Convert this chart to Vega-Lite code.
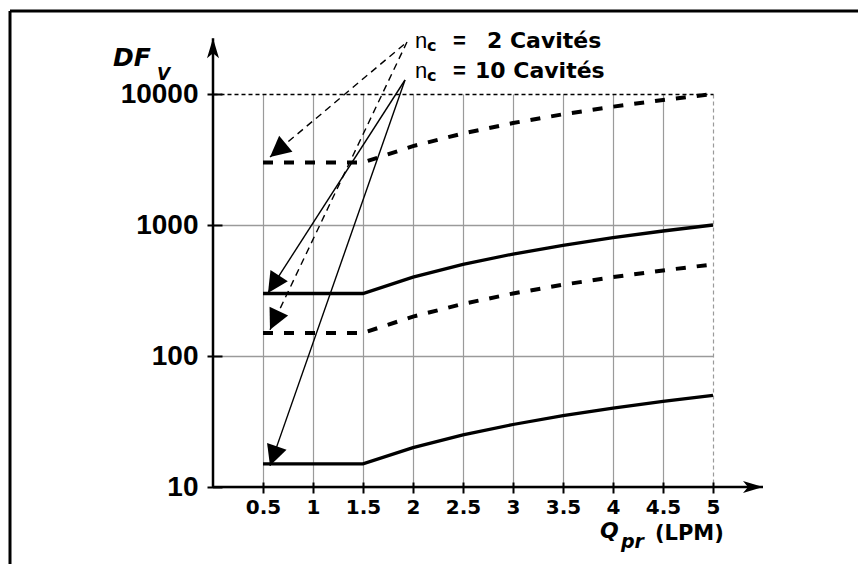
{
  "$schema": "https://vega.github.io/schema/vega-lite/v6.json",
  "width": 500,
  "height": 393,
  "autosize": "none",
  "padding": {"left": 213, "top": 94, "right": 145, "bottom": 77},
  "background": "white",
  "config": {"view": {"stroke": null}, "font": "Liberation Sans", "text": {"font": "DejaVu Sans"}},
  "datasets": {
    "curves": [
      {"series": "A", "nc": "2", "q": 0.5, "df": 3000}, {"series": "A", "nc": "2", "q": 1, "df": 3000}, {"series": "A", "nc": "2", "q": 1.5, "df": 3000}, {"series": "A", "nc": "2", "q": 2, "df": 4000}, {"series": "A", "nc": "2", "q": 2.5, "df": 5000}, {"series": "A", "nc": "2", "q": 3, "df": 6000}, {"series": "A", "nc": "2", "q": 3.5, "df": 7000}, {"series": "A", "nc": "2", "q": 4, "df": 8000}, {"series": "A", "nc": "2", "q": 4.5, "df": 9000}, {"series": "A", "nc": "2", "q": 5, "df": 10000},
      {"series": "B", "nc": "10", "q": 0.5, "df": 300}, {"series": "B", "nc": "10", "q": 1, "df": 300}, {"series": "B", "nc": "10", "q": 1.5, "df": 300}, {"series": "B", "nc": "10", "q": 2, "df": 400}, {"series": "B", "nc": "10", "q": 2.5, "df": 500}, {"series": "B", "nc": "10", "q": 3, "df": 600}, {"series": "B", "nc": "10", "q": 3.5, "df": 700}, {"series": "B", "nc": "10", "q": 4, "df": 800}, {"series": "B", "nc": "10", "q": 4.5, "df": 900}, {"series": "B", "nc": "10", "q": 5, "df": 1000},
      {"series": "C", "nc": "2", "q": 0.5, "df": 150}, {"series": "C", "nc": "2", "q": 1, "df": 150}, {"series": "C", "nc": "2", "q": 1.5, "df": 150}, {"series": "C", "nc": "2", "q": 2, "df": 200}, {"series": "C", "nc": "2", "q": 2.5, "df": 250}, {"series": "C", "nc": "2", "q": 3, "df": 300}, {"series": "C", "nc": "2", "q": 3.5, "df": 350}, {"series": "C", "nc": "2", "q": 4, "df": 400}, {"series": "C", "nc": "2", "q": 4.5, "df": 450}, {"series": "C", "nc": "2", "q": 5, "df": 500},
      {"series": "D", "nc": "10", "q": 0.5, "df": 15}, {"series": "D", "nc": "10", "q": 1, "df": 15}, {"series": "D", "nc": "10", "q": 1.5, "df": 15}, {"series": "D", "nc": "10", "q": 2, "df": 20}, {"series": "D", "nc": "10", "q": 2.5, "df": 25}, {"series": "D", "nc": "10", "q": 3, "df": 30}, {"series": "D", "nc": "10", "q": 3.5, "df": 35}, {"series": "D", "nc": "10", "q": 4, "df": 40}, {"series": "D", "nc": "10", "q": 4.5, "df": 45}, {"series": "D", "nc": "10", "q": 5, "df": 50}
    ],
    "arrows": [
      {"id": "a1", "nc": "2", "q": 0.57, "df": 3304, "q2": 1.94, "df2": 24960},
      {"id": "a2", "nc": "2", "q": 0.57, "df": 158.5, "q2": 1.94, "df2": 24960},
      {"id": "a3", "nc": "10", "q": 0.55, "df": 303, "q2": 1.92, "df2": 12790},
      {"id": "a4", "nc": "10", "q": 0.57, "df": 14.5, "q2": 1.92, "df2": 12790}
    ],
    "axes": [
      {"id": "y", "q": 0, "df": 26700, "q2": 0, "df2": 10},
      {"id": "x", "q": 5.5, "df": 10, "q2": 0, "df2": 10}
    ],
    "frame": [
      {"q": -2.03, "df": 42950, "q2": 6.6, "df2": 42950},
      {"q": -2.03, "df": 42950, "q2": -2.03, "df2": 2.0}
    ],
    "texts": [
      {"kind": "n", "q": 2.02, "df": 22340, "text": "n"},
      {"kind": "n", "q": 2.02, "df": 13190, "text": "n"},
      {"kind": "c", "q": 2.14, "df": 21290, "text": "c"},
      {"kind": "c", "q": 2.14, "df": 12560, "text": "c"},
      {"kind": "eqsign", "q": 2.40, "df": 22340, "text": "="},
      {"kind": "eqsign", "q": 2.40, "df": 13190, "text": "="},
      {"kind": "eq", "q": 2.74, "df": 22340, "text": "2 Cavités"},
      {"kind": "eq", "q": 2.62, "df": 13190, "text": "10 Cavités"},
      {"kind": "DF", "q": -1.0, "df": 16370, "text": "DF"},
      {"kind": "V", "q": -0.56, "df": 12800, "text": "V"},
      {"kind": "Q", "q": 3.87, "df": 4.1, "text": "Q"},
      {"kind": "pr", "q": 4.08, "df": 3.45, "text": "pr"},
      {"kind": "LPM", "q": 4.42, "df": 3.96, "text": "(LPM)"}
    ]
  },
  "encoding": {
    "x": {
      "field": "q", "type": "quantitative",
      "scale": {"type": "linear", "domain": [0, 5], "nice": false, "zero": false},
      "axis": {
        "values": [0.5, 1, 1.5, 2, 2.5, 3, 3.5, 4, 4.5, 5], "format": "~g",
        "title": null, "domain": false,
        "grid": true, "gridColor": "#9a9a9a", "gridWidth": 1.2,
        "gridDash": {"condition": {"test": "datum.value === 5", "value": [4, 3]}, "value": []},
        "ticks": true, "tickColor": "black", "tickWidth": 2, "tickSize": 11, "offset": -5,
        "labelFont": "DejaVu Sans", "labelFontSize": 20, "labelFontWeight": "bold", "labelColor": "black",
        "labelPadding": 4, "labelFlush": false, "labelOverlap": false
      }
    },
    "y": {
      "field": "df", "type": "quantitative",
      "scale": {"type": "log", "domain": [10, 10000], "nice": false, "zero": false},
      "axis": {
        "values": [10, 100, 1000, 10000], "format": "d",
        "title": null, "domain": false,
        "grid": true,
        "gridColor": {"condition": {"test": "datum.value === 10000", "value": "black"}, "value": "#9a9a9a"},
        "gridDash": {"condition": {"test": "datum.value === 10000", "value": [4, 3]}, "value": []},
        "gridWidth": 1.3,
        "ticks": true, "tickColor": "black", "tickWidth": 2, "tickSize": 15, "offset": -9,
        "labelFont": "Liberation Sans", "labelFontSize": 28, "labelFontWeight": "bold", "labelColor": "black",
        "labelPadding": 9, "labelOverlap": false
      }
    }
  },
  "layer": [
    {
      "data": {"name": "frame"},
      "mark": {"type": "rule", "color": "black", "strokeWidth": 3},
      "encoding": {"x2": {"field": "q2"}, "y2": {"field": "df2"}}
    },
    {
      "data": {"name": "curves"},
      "transform": [{"filter": "datum.nc === '2'"}],
      "mark": {"type": "line", "color": "black", "strokeWidth": 4, "strokeDash": [10, 11], "strokeCap": "butt"},
      "encoding": {"detail": {"field": "series"}}
    },
    {
      "data": {"name": "curves"},
      "transform": [{"filter": "datum.nc === '10'"}],
      "mark": {"type": "line", "color": "black", "strokeWidth": 3.3},
      "encoding": {"detail": {"field": "series"}}
    },
    {
      "data": {"name": "arrows"},
      "transform": [{"filter": "datum.nc === '2'"}],
      "mark": {"type": "rule", "color": "black", "strokeWidth": 1.4, "strokeDash": [7, 5]},
      "encoding": {"x2": {"field": "q2"}, "y2": {"field": "df2"}}
    },
    {
      "data": {"name": "arrows"},
      "transform": [{"filter": "datum.nc === '10'"}],
      "mark": {"type": "rule", "color": "black", "strokeWidth": 1.4},
      "encoding": {"x2": {"field": "q2"}, "y2": {"field": "df2"}}
    },
    {
      "data": {"name": "arrows"},
      "transform": [{"filter": "datum.id === 'a1'"}],
      "mark": {"type": "point", "shape": "M0,0L-0.5,1L0.5,1Z", "size": 1700, "filled": true, "color": "black", "opacity": 1, "angle": 230}
    },
    {
      "data": {"name": "arrows"},
      "transform": [{"filter": "datum.id === 'a2'"}],
      "mark": {"type": "point", "shape": "M0,0L-0.5,1L0.5,1Z", "size": 1700, "filled": true, "color": "black", "opacity": 1, "angle": 205.4}
    },
    {
      "data": {"name": "arrows"},
      "transform": [{"filter": "datum.id === 'a3'"}],
      "mark": {"type": "point", "shape": "M0,0L-0.5,1L0.5,1Z", "size": 1700, "filled": true, "color": "black", "opacity": 1, "angle": 212.75}
    },
    {
      "data": {"name": "arrows"},
      "transform": [{"filter": "datum.id === 'a4'"}],
      "mark": {"type": "point", "shape": "M0,0L-0.5,1L0.5,1Z", "size": 1700, "filled": true, "color": "black", "opacity": 1, "angle": 199.3}
    },
    {
      "data": {"name": "axes"},
      "mark": {"type": "rule", "color": "black", "strokeWidth": 2.5},
      "encoding": {"x2": {"field": "q2"}, "y2": {"field": "df2"}}
    },
    {
      "data": {"name": "axes"},
      "transform": [{"filter": "datum.id === 'y'"}],
      "mark": {"type": "point", "shape": "M0,0L-0.3,1L0,0.75L0.3,1Z", "size": 1600, "filled": true, "color": "black", "opacity": 1, "angle": 0}
    },
    {
      "data": {"name": "axes"},
      "transform": [{"filter": "datum.id === 'x'"}],
      "mark": {"type": "point", "shape": "M0,0L-0.3,1L0,0.75L0.3,1Z", "size": 1600, "filled": true, "color": "black", "opacity": 1, "angle": 90}
    },
    {
      "data": {"name": "texts"},
      "transform": [{"filter": "datum.kind === 'n'"}],
      "mark": {"type": "text", "font": "Liberation Sans", "align": "left", "baseline": "alphabetic", "fontSize": 22, "fontWeight": "normal", "color": "black"},
      "encoding": {"text": {"field": "text"}}
    },
    {
      "data": {"name": "texts"},
      "transform": [{"filter": "datum.kind === 'c'"}],
      "mark": {"type": "text", "font": "DejaVu Sans", "align": "left", "baseline": "alphabetic", "fontSize": 16, "fontWeight": "bold", "color": "black"},
      "encoding": {"text": {"field": "text"}}
    },
    {
      "data": {"name": "texts"},
      "transform": [{"filter": "datum.kind === 'eqsign'"}],
      "mark": {"type": "text", "font": "Liberation Sans", "align": "left", "baseline": "alphabetic", "fontSize": 22, "fontWeight": "bold", "color": "black"},
      "encoding": {"text": {"field": "text"}}
    },
    {
      "data": {"name": "texts"},
      "transform": [{"filter": "datum.kind === 'eq'"}],
      "mark": {"type": "text", "font": "DejaVu Sans", "align": "left", "baseline": "alphabetic", "fontSize": 22, "fontWeight": "bold", "color": "black"},
      "encoding": {"text": {"field": "text"}}
    },
    {
      "data": {"name": "texts"},
      "transform": [{"filter": "datum.kind === 'DF'"}],
      "mark": {"type": "text", "font": "DejaVu Sans", "align": "left", "baseline": "alphabetic", "fontSize": 25, "fontWeight": "bold", "fontStyle": "italic", "color": "black"},
      "encoding": {"text": {"field": "text"}}
    },
    {
      "data": {"name": "texts"},
      "transform": [{"filter": "datum.kind === 'V'"}],
      "mark": {"type": "text", "font": "DejaVu Sans", "align": "left", "baseline": "alphabetic", "fontSize": 17, "fontWeight": "bold", "fontStyle": "italic", "color": "black"},
      "encoding": {"text": {"field": "text"}}
    },
    {
      "data": {"name": "texts"},
      "transform": [{"filter": "datum.kind === 'Q'"}],
      "mark": {"type": "text", "font": "DejaVu Sans", "align": "left", "baseline": "alphabetic", "fontSize": 22, "fontWeight": "bold", "fontStyle": "italic", "color": "black"},
      "encoding": {"text": {"field": "text"}}
    },
    {
      "data": {"name": "texts"},
      "transform": [{"filter": "datum.kind === 'pr'"}],
      "mark": {"type": "text", "font": "DejaVu Sans", "align": "left", "baseline": "alphabetic", "fontSize": 19, "fontWeight": "bold", "fontStyle": "italic", "color": "black"},
      "encoding": {"text": {"field": "text"}}
    },
    {
      "data": {"name": "texts"},
      "transform": [{"filter": "datum.kind === 'LPM'"}],
      "mark": {"type": "text", "font": "DejaVu Sans", "align": "left", "baseline": "alphabetic", "fontSize": 21, "fontWeight": "bold", "color": "black"},
      "encoding": {"text": {"field": "text"}}
    }
  ]
}
